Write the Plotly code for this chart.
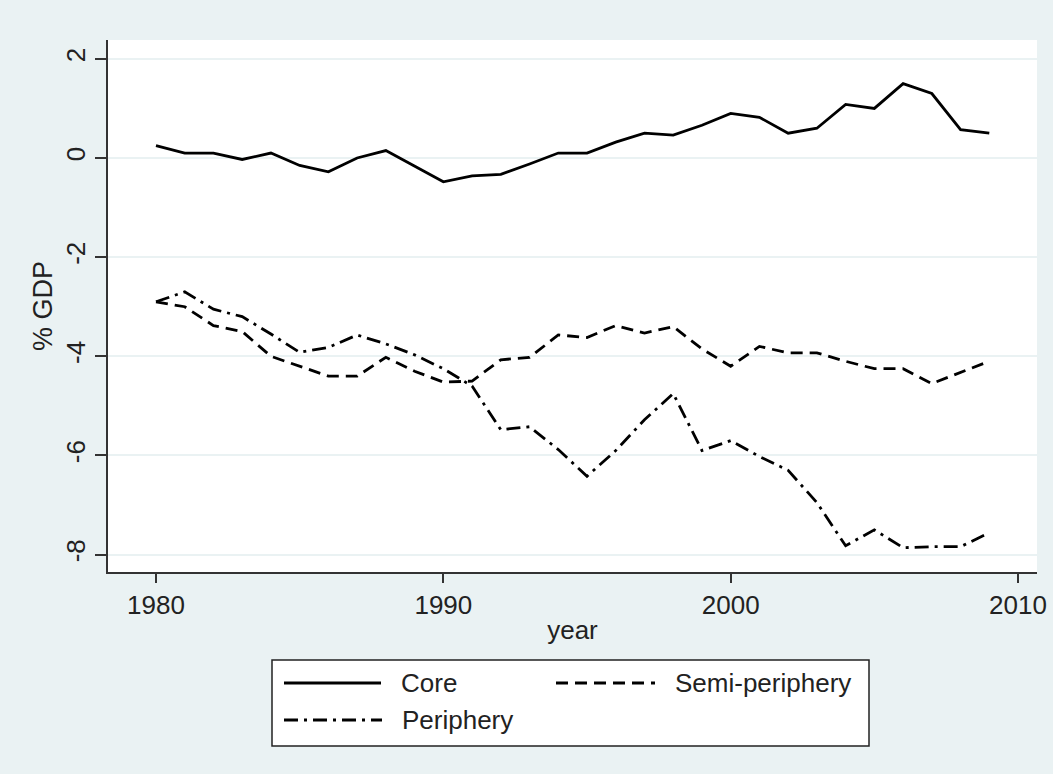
import plotly.graph_objects as go

years = list(range(1980, 2010))
core = [0.25, 0.10, 0.10, -0.03, 0.10, -0.15, -0.28, 0.00, 0.15, -0.16,
        -0.48, -0.36, -0.33, -0.12, 0.10, 0.10, 0.32, 0.50, 0.46, 0.66,
        0.90, 0.82, 0.50, 0.60, 1.08, 1.00, 1.50, 1.30, 0.57, 0.50]
semi = [-2.90, -3.00, -3.38, -3.50, -4.00, -4.20, -4.40, -4.40, -4.02, -4.30,
        -4.52, -4.50, -4.07, -4.02, -3.57, -3.62, -3.38, -3.53, -3.40, -3.85,
        -4.20, -3.80, -3.93, -3.93, -4.10, -4.25, -4.25, -4.55, -4.33, -4.10]
peri = [-2.90, -2.70, -3.05, -3.20, -3.55, -3.92, -3.82, -3.57, -3.75, -3.97,
        -4.25, -4.60, -5.48, -5.42, -5.88, -6.42, -5.90, -5.28, -4.75, -5.90,
        -5.70, -6.02, -6.30, -6.95, -7.82, -7.50, -7.86, -7.84, -7.84, -7.56]

series_names = ["Core", "Semi-periphery", "Periphery"]
x_ticks = [1980, 1990, 2000, 2010]
y_ticks = [-8, -6, -4, -2, 0, 2]
y_ticktext = ["-8", "-6", "-4", "-2", "0", "2"]

W, H = 1053, 774
L, R, T, B = 108, 16, 40, 202
PW, PH = W - L - R, H - T - B
FONT = "Liberation Sans, Arial, sans-serif"
BG = "#EAF2F3"
TXT = "#222222"

dashes = {"Core": "solid", "Semi-periphery": "12px,7px", "Periphery": "14px,6px,3px,6px"}
data = {"Core": core, "Semi-periphery": semi, "Periphery": peri}

fig = go.Figure()
for name in series_names:
    fig.add_trace(go.Scatter(x=years, y=data[name], mode="lines", name=name,
                             line=dict(color="black", width=2.8, dash=dashes[name])))

def px2paper(px, py):
    return (px - L) / PW, (H - B - py) / PH

shapes = []
annotations = []
# legend box
x0, y0 = px2paper(272, 746)
x1, y1 = px2paper(869, 660)
shapes.append(dict(type="rect", xref="paper", yref="paper", x0=x0, y0=y0, x1=x1, y1=y1,
                   line=dict(color="#222222", width=1.5), fillcolor="white", layer="above"))
legend_items = [("Core", 284, 381, 683), ("Semi-periphery", 556, 655, 683), ("Periphery", 284, 382, 720)]
for name, lx0, lx1, ly in legend_items:
    a0, b0 = px2paper(lx0, ly)
    a1, _ = px2paper(lx1, ly)
    shapes.append(dict(type="line", xref="paper", yref="paper", x0=a0, y0=b0, x1=a1, y1=b0,
                       line=dict(color="black", width=2.8, dash=dashes[name]), layer="above"))
    tx, ty = px2paper(lx1 + 18, ly)
    annotations.append(dict(text=name, xref="paper", yref="paper", x=tx, y=ty,
                            xanchor="left", yanchor="middle", showarrow=False,
                            font=dict(family=FONT, size=26, color=TXT)))

fig.update_layout(
    width=W, height=H,
    paper_bgcolor=BG, plot_bgcolor="white",
    margin=dict(l=L, r=R, t=T, b=B, autoexpand=False),
    showlegend=False,
    font=dict(family=FONT, size=26, color=TXT),
    shapes=shapes, annotations=annotations,
    xaxis=dict(range=[1978.33, 2010.66], tickvals=x_ticks, ticks="outside", ticklen=9,
               tickwidth=2, tickcolor="#333333", showline=True, linecolor="#333333",
               linewidth=2, showgrid=False, zeroline=False, automargin=False,
               tickfont=dict(family=FONT, size=26, color=TXT),
               title=dict(text="year", font=dict(family=FONT, size=26, color=TXT), standoff=2)),
    yaxis=dict(range=[-8.35, 2.38], tickvals=y_ticks, ticktext=y_ticktext, tickangle=-90,
               ticks="outside", ticklen=11, tickwidth=2, tickcolor="#333333",
               showline=True, linecolor="#333333", linewidth=2, automargin=False,
               showgrid=True, gridcolor=BG, gridwidth=1.5, zeroline=False,
               tickfont=dict(family=FONT, size=26, color=TXT),
               title=dict(text="% GDP", font=dict(family=FONT, size=27, color=TXT), standoff=0)),
)

fig.write_html("out.html", config={"displayModeBar": False},
               post_script="document.body.style.margin='0';document.body.style.background='#EAF2F3';")
